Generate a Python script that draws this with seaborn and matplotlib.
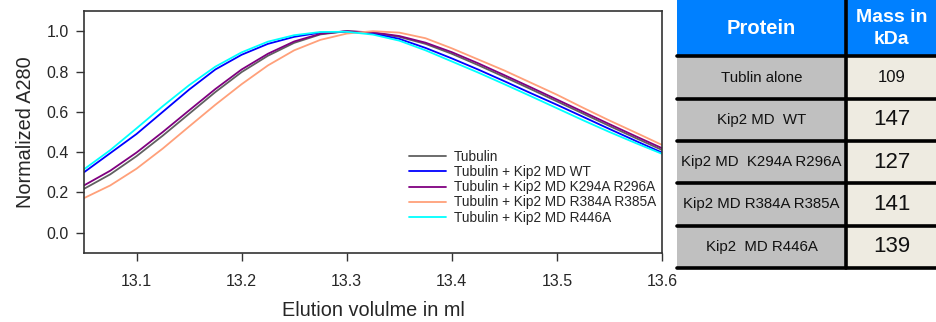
import pandas as pd
import seaborn as sns
import matplotlib.pyplot as plt

# elution volume grid (ml) and normalized A280
volume = [13.05, 13.075, 13.10, 13.125, 13.15, 13.175, 13.20, 13.225, 13.25, 13.275, 13.30, 13.325,
          13.35, 13.375, 13.40, 13.425, 13.45, 13.475, 13.50, 13.525, 13.55, 13.575, 13.60]

tubulin = [0.218, 0.29, 0.38, 0.482, 0.59, 0.698, 0.797, 0.878, 0.942, 0.984, 1.0, 0.992,
           0.972, 0.937, 0.888, 0.832, 0.773, 0.713, 0.652, 0.591, 0.530, 0.470, 0.411]
kip2_wt = [0.30, 0.395, 0.49, 0.60, 0.71, 0.81, 0.883, 0.937, 0.972, 0.993, 0.998, 0.988,
           0.962, 0.917, 0.865, 0.81, 0.752, 0.693, 0.635, 0.575, 0.515, 0.456, 0.398]
kip2_k294a = [0.235, 0.308, 0.398, 0.50, 0.607, 0.713, 0.81, 0.888, 0.949, 0.987, 1.0, 0.994,
              0.976, 0.943, 0.896, 0.841, 0.782, 0.722, 0.661, 0.600, 0.539, 0.479, 0.42]
kip2_r384a = [0.172, 0.235, 0.318, 0.418, 0.527, 0.635, 0.737, 0.83, 0.905, 0.957, 0.988, 1.0,
              0.993, 0.965, 0.915, 0.86, 0.805, 0.745, 0.685, 0.62, 0.557, 0.497, 0.436]
kip2_r446a = [0.315, 0.41, 0.518, 0.628, 0.732, 0.824, 0.895, 0.948, 0.98, 0.996, 0.997, 0.983,
              0.953, 0.905, 0.85, 0.795, 0.737, 0.678, 0.618, 0.558, 0.50, 0.445, 0.392]

series_names = ["Tubulin", "Tubulin + Kip2 MD WT", "Tubulin + Kip2 MD K294A R296A",
                "Tubulin + Kip2 MD R384A R385A", "Tubulin + Kip2 MD R446A"]
series_colors = ["#606060", "#0000FF", "#800080", "#FFA07A", "#00FFFF"]

# table on the right
table_proteins = ["Tublin alone", "Kip2 MD  WT", "Kip2 MD  K294A R296A",
                  "Kip2 MD R384A R385A", "Kip2  MD R446A"]
table_mass = ["109", "147", "127", "141", "139"]

frames = []
for name, vals in zip(series_names, [tubulin, kip2_wt, kip2_k294a, kip2_r384a, kip2_r446a]):
    frames.append(pd.DataFrame({"volume": volume, "A280": vals, "sample": name}))
df = pd.concat(frames, ignore_index=True)

sns.set_style("ticks")
plt.rcParams['font.family'] = ['Liberation Sans', 'DejaVu Sans']

fig = plt.figure(figsize=(9.37, 3.22), dpi=100)
ax = fig.add_axes([0.0896, 0.2143, 0.6169, 0.7515])

sns.lineplot(data=df, x="volume", y="A280", hue="sample", hue_order=series_names,
             palette=dict(zip(series_names, series_colors)), linewidth=1.3, ax=ax)

ax.set_xlim(13.05, 13.6)
ax.set_ylim(-0.1, 1.1)
ax.set_xticks([13.1, 13.2, 13.3, 13.4, 13.5, 13.6])
ax.set_yticks([0.0, 0.2, 0.4, 0.6, 0.8, 1.0])
ax.set_xticklabels(["13.1", "13.2", "13.3", "13.4", "13.5", "13.6"])
ax.set_yticklabels(["0.0", "0.2", "0.4", "0.6", "0.8", "1.0"])
ax.tick_params(labelsize=11.5, length=6, width=1, color="#333333", pad=5)
ax.tick_params(axis="x", pad=9)
for sp in ax.spines.values():
    sp.set_color("#333333")
    sp.set_linewidth(1.2)
ax.set_xlabel("Elution volulme in ml", fontsize=14.3, labelpad=9)
ax.set_ylabel("Normalized A280", fontsize=14.3, labelpad=8)

ax.legend(loc="upper left", bbox_to_anchor=(0.562, 0.425), frameon=False, fontsize=9.8,
          handlelength=2.7, handletextpad=0.6, labelspacing=0.08, borderpad=0, borderaxespad=0)

# summary table
tax = fig.add_axes([0.7225, 0.168, 0.2775, 0.832])
tax.set_xlim(0, 1)
tax.set_ylim(0, 1)
tax.axis("off")
row_h = [56, 42, 42, 42, 42, 42]
tbl = tax.table(cellText=[[p, m] for p, m in zip(table_proteins, table_mass)],
                colLabels=["Protein", "Mass in\nkDa"], cellLoc="center",
                colWidths=[169, 91], bbox=[0, 0, 1, 1])
tbl.auto_set_font_size(False)
for (r, c), cell in tbl.get_celld().items():
    cell.set_height(row_h[r])
    cell.set_linewidth(0)
    txt = cell.get_text()
    if r == 0:
        cell.set_facecolor("#0080FF")
        txt.set_color("white")
        txt.set_fontweight("bold")
        txt.set_fontsize(14.5 if c == 0 else 14)
        txt.set_linespacing(1.4)
    elif c == 0:
        cell.set_facecolor("#C0C0C0")
        txt.set_fontsize(10.8)
        txt.set_color("#111111")
    else:
        cell.set_facecolor("#EEEBE1")
        txt.set_fontsize(12 if r == 1 else 16)
        txt.set_color("#111111")

# black grid lines of the table
total = sum(row_h)
acc = 0
for h in row_h:
    acc += h
    tax.axhline(1 - acc / total, color="black", lw=2.6, clip_on=False, zorder=5)
tax.axvline(169 / 260, color="black", lw=2.6, clip_on=False, zorder=5)

fig.savefig("out.png", dpi=100)
